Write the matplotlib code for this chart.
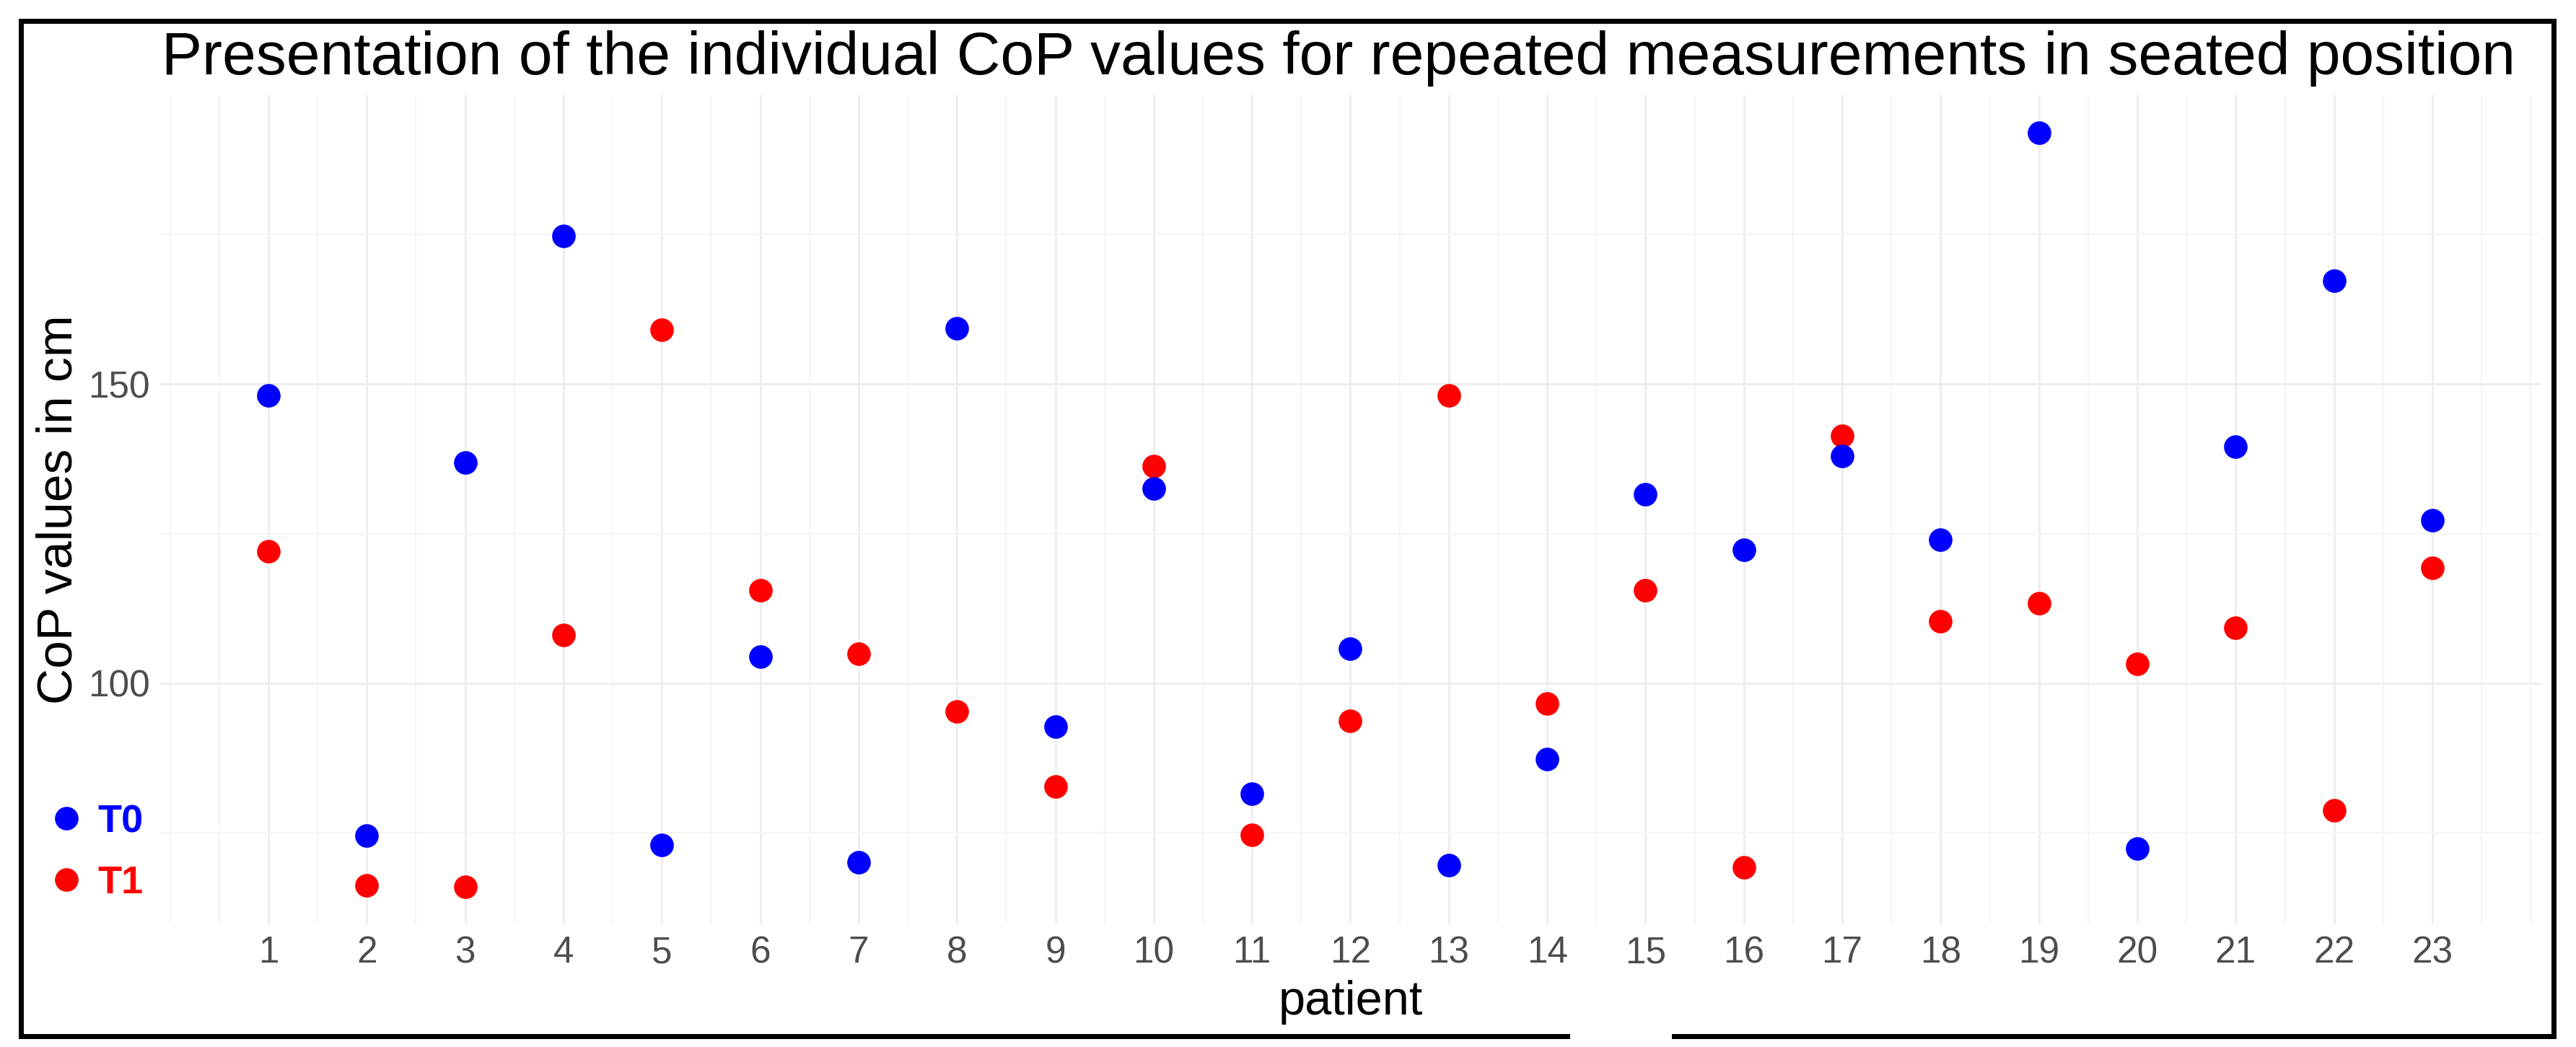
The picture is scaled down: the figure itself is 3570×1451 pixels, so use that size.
import matplotlib
matplotlib.use("Agg")
import matplotlib.pyplot as plt
from matplotlib.lines import Line2D
import numpy as np

# Data: CoP values (cm) per patient, T0 and T1
patients = list(range(1, 24))
t0_values = [148.1, 74.5, 136.9, 174.8, 73.0, 104.5, 70.1, 159.3, 92.7, 132.6, 81.5, 105.8,
             69.6, 87.3, 131.6, 122.3, 138.0, 124.0, 192.0, 72.4, 139.5, 167.3, 127.3]
t1_values = [122.1, 66.2, 66.0, 108.1, 159.1, 115.6, 104.9, 95.3, 82.8, 136.3, 74.7, 93.7,
             148.1, 96.6, 115.6, 69.2, 141.4, 110.4, 113.4, 103.2, 109.3, 78.8, 119.3]
series_labels = ["T0", "T1"]
series_colors = ["#0000FF", "#FF0000"]
y_ticks = [100, 150]
y_minor = [75, 125, 175]

plt.rcParams["font.family"] = ["Liberation Sans", "DejaVu Sans"]

W, H = 3570, 1451
fig = plt.figure(figsize=(W / 100, H / 100), dpi=100)

# panel in pixel coordinates (left, top, right, bottom)
pl, pt, pr, pb = 222, 132, 3521, 1281
ax = fig.add_axes([pl / W, 1 - pb / H, (pr - pl) / W, (pb - pt) / H])

dot = 23.5
ax.scatter(patients, t1_values, s=dot ** 2, color=series_colors[1], linewidths=0, zorder=3)
ax.scatter(patients, t0_values, s=dot ** 2, color=series_colors[0], linewidths=0, zorder=4)

# ggplot-like 5% expansion
xpad = 0.05 * (max(patients) - min(patients))
ax.set_xlim(min(patients) - xpad, max(patients) + xpad)
all_vals = t0_values + t1_values
ypad = 0.05 * (max(all_vals) - min(all_vals))
ax.set_ylim(min(all_vals) - ypad, max(all_vals) + ypad)

ax.set_xticks(patients)
ax.set_xticks(np.arange(0, 24.5, 0.5), minor=True)
ax.set_yticks(y_ticks)
ax.set_yticks(y_minor, minor=True)
ax.tick_params(which="both", length=0)
ax.tick_params(axis="both", labelsize=37, labelcolor="#4D4D4D")
ax.tick_params(axis="x", pad=11)
ax.tick_params(axis="y", pad=10)

ax.grid(which="major", color="#EEEEEE", lw=2.2)
ax.grid(which="minor", color="#F4F4F4", lw=1.5)
ax.set_axisbelow(True)
for s in ax.spines.values():
    s.set_visible(False)

ax.set_xlabel("patient", fontsize=48)
ax.xaxis.set_label_coords(0.5, (pb - 1406) / (pb - pt))
ax.xaxis.label.set_va("baseline")
ax.set_ylabel("CoP values in cm", fontsize=50)
ax.yaxis.set_label_coords((100 - pl) / (pr - pl), 0.5)
ax.yaxis.label.set_va("baseline")

# legend at lower left
handles = [Line2D([], [], marker="o", ls="", markersize=dot, markerfacecolor=c,
                  markeredgewidth=0) for c in series_colors]
ax.legend(handles, series_labels, loc="upper left", bbox_to_anchor=(65 / W, 1 - 1114 / H),
          bbox_transform=fig.transFigure, frameon=False, borderpad=0, borderaxespad=0,
          handlelength=1.0, handletextpad=0.3, labelspacing=0.64,
          prop={"weight": "bold", "size": 39}, labelcolor=series_colors)

# title, fitted to the width seen in the picture
title = fig.text(224 / W, 1 - 103 / H,
                 "Presentation of the individual CoP values for repeated measurements in seated position",
                 fontsize=56, ha="left", va="baseline", color="black")
renderer = fig.canvas.get_renderer()
bb = title.get_window_extent(renderer)
title.set_fontsize(56 * 3262 / bb.width)

# black frame around the figure (with a small gap at the bottom)
def frame_line(xs, ys):
    fig.add_artist(Line2D([x / W for x in xs], [1 - y / H for y in ys],
                          transform=fig.transFigure, color="black", lw=5.04,
                          solid_capstyle="projecting"))

frame_line([29, 29], [28.5, 1435.5])
frame_line([29, 3538.5], [28.5, 28.5])
frame_line([3538.5, 3538.5], [28.5, 1435.5])
frame_line([29, 2172], [1435.5, 1435.5])
frame_line([2320, 3538.5], [1435.5, 1435.5])

fig.savefig("out.png", dpi=100)
